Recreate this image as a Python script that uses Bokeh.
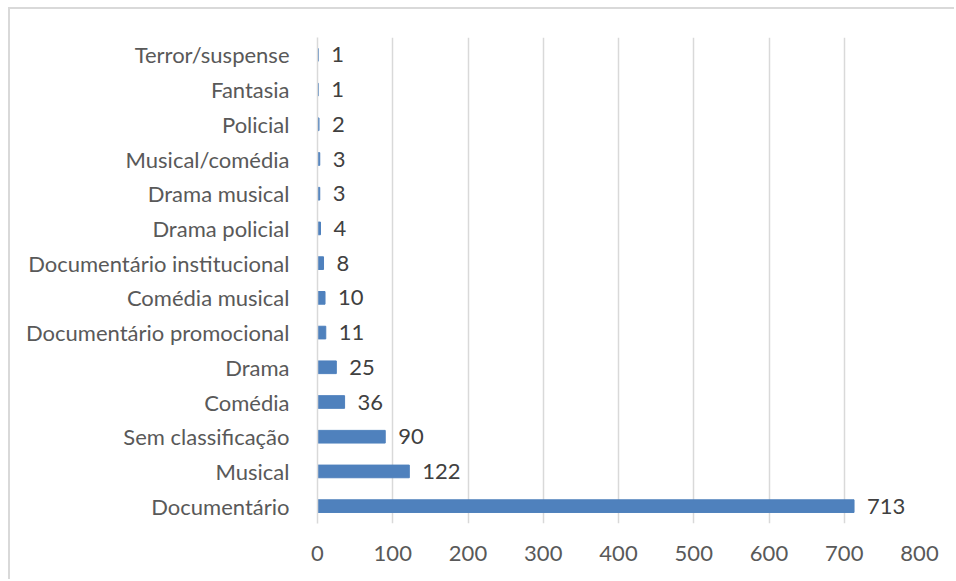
from bokeh.plotting import figure
from bokeh.models import FactorRange, FixedTicker, ColumnDataSource
from bokeh.core.properties import value
from bokeh.embed import file_html
from bokeh.resources import INLINE

# Film genres (top to bottom) and number of titles in each
genres = [
    "Terror/suspense", "Fantasia", "Policial", "Musical/comédia", "Drama musical",
    "Drama policial", "Documentário institucional", "Comédia musical",
    "Documentário promocional", "Drama", "Comédia", "Sem classificação",
    "Musical", "Documentário",
]
counts = [1, 1, 2, 3, 3, 4, 8, 10, 11, 25, 36, 90, 122, 713]
x_ticks = [0, 100, 200, 300, 400, 500, 600, 700, 800]

FONT = "Lato"
BAR = "#4f81bd"
EDGE = "#d9d9d9"

source = ColumnDataSource(dict(genre=genres, count=counts,
                               label=[str(c) for c in counts]))

# chart sits 8px/7px in from the page corner, with a light border on top/left
p = figure(
    width=946, height=572,
    y_range=FactorRange(factors=list(reversed(genres))),
    x_range=(0, 800),
    output_backend="svg", toolbar_location=None,
    min_border_left=307, min_border_right=37,
    min_border_top=28, min_border_bottom=58,
    margin=(7, 0, 0, 8),
    styles={"border-top": f"2px solid {EDGE}", "border-left": f"2px solid {EDGE}"},
)
p.outline_line_color = None
p.background_fill_color = "white"
p.border_fill_color = "white"

p.hbar(y="genre", right="count", left=0, height=0.365, source=source,
       fill_color=BAR, line_color=BAR)

p.text(x="count", y="genre", text="label", source=source,
       x_offset=13, text_align="left", text_baseline="middle",
       text_font=value(FONT), text_font_size="22px", text_color="#404040")

# x axis: ticks every 100, no axis line
p.xaxis.ticker = FixedTicker(ticks=x_ticks)
p.xaxis.axis_line_color = None
p.xaxis.major_tick_line_color = None
p.xaxis.minor_tick_line_color = None
p.xaxis.major_label_standoff = 16
p.xaxis.major_label_text_font = FONT
p.xaxis.major_label_text_font_size = "22px"
p.xaxis.major_label_text_color = "#595959"

# y axis: category labels, light axis line at zero
p.yaxis.axis_line_color = EDGE
p.yaxis.axis_line_width = 1.5
p.yaxis.major_tick_line_color = None
p.yaxis.minor_tick_line_color = None
p.yaxis.major_label_standoff = 22
p.yaxis.major_label_text_font = FONT
p.yaxis.major_label_text_font_size = "22px"
p.yaxis.major_label_text_color = "#595959"

p.xgrid.grid_line_color = EDGE
p.xgrid.grid_line_width = 1.5
p.ygrid.grid_line_color = None

open("out.html", "w").write(file_html(p, INLINE))
